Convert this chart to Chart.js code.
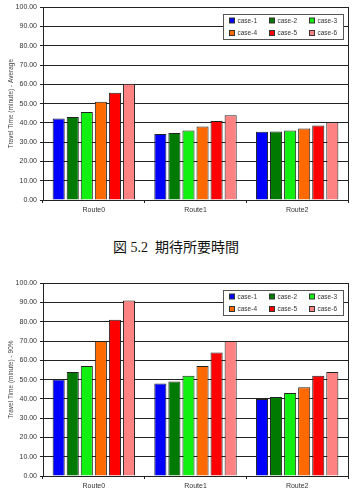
<!DOCTYPE html>
<html>
<head>
<meta charset="utf-8">
<script src="https://cdn.jsdelivr.net/npm/chart.js@4"></script>
<style>
  body { margin: 0; background: #fff; width: 352px; height: 490px; overflow: hidden; position: relative; }
  .chart-box { position: absolute; left: 0; width: 352px; height: 215px; }
  #avg-box { top: 0; }
  #p90-box { top: 276px; }
  #caption {
    position: absolute; top: 236px; left: 0; width: 352px; text-align: center;
    font: 14px "Liberation Serif", "Noto Sans CJK JP", serif; color: #111; white-space: pre;
  }
</style>
</head>
<body>
<div class="chart-box" id="avg-box"><canvas id="avgChart"></canvas></div>
<div id="caption">図 5.2  期待所要時間</div>
<div class="chart-box" id="p90-box"><canvas id="p90Chart"></canvas></div>
<script>
const routes = ['Route0', 'Route1', 'Route2'];
const cases = ['case-1', 'case-2', 'case-3', 'case-4', 'case-5', 'case-6'];
const yTicks = [0, 10, 20, 30, 40, 50, 60, 70, 80, 90, 100];

// one row per case, one value per route
const averageTimes = [
  [42.3, 34.2, 35.4],
  [43.0, 34.8, 35.5],
  [45.6, 36.0, 36.0],
  [51.0, 38.1, 37.1],
  [55.6, 41.0, 38.7],
  [60.3, 44.0, 40.3]
];
const p90Times = [
  [50.0, 48.0, 40.0],
  [54.0, 49.0, 41.0],
  [57.0, 52.0, 43.0],
  [70.0, 57.0, 46.0],
  [81.0, 64.0, 52.0],
  [91.0, 70.0, 54.0]
];

const caseColors = ['#0000ff', '#007a00', '#11f011', '#ff6a00', '#ff0000', '#ff8282'];
const font = 'Liberation Sans, Arial, sans-serif';

// plot frame + legend box drawn on top
const framePlugin = {
  id: 'frame',
  afterDraw(chart) {
    const ctx = chart.ctx;
    const a = chart.chartArea;
    ctx.save();
    ctx.strokeStyle = '#222';
    ctx.lineWidth = 1;
    ctx.strokeRect(Math.round(a.left) + 0.5, Math.round(a.top) + 0.5,
      Math.round(a.right - a.left), Math.round(a.bottom - a.top));

    const w = 120, h = 25;
    const x = Math.round(a.right - w - 5) + 0.5, y = Math.round(a.top + 7) + 0.5;
    ctx.fillStyle = '#fff';
    ctx.fillRect(x, y, w, h);
    ctx.strokeStyle = '#555';
    ctx.strokeRect(x, y, w, h);
    ctx.font = '6.5px ' + font;
    ctx.textBaseline = 'middle';
    chart.data.datasets.forEach((ds, i) => {
      const col = i % 3, row = Math.floor(i / 3);
      const mx = x + 6 + col * 40, my = y + 6 + row * 12.5;
      ctx.fillStyle = ds.backgroundColor;
      ctx.fillRect(mx, my - 2.5, 5, 5);
      ctx.strokeStyle = '#333';
      ctx.strokeRect(mx, my - 2.5, 5, 5);
      ctx.fillStyle = '#333';
      ctx.fillText(ds.label, mx + 8, my + 0.5);
    });
    ctx.restore();
  }
};

function makeChart(id, values, title) {
  const ctx = document.getElementById(id).getContext('2d');
  return new Chart(ctx, {
    type: 'bar',
    data: {
      labels: routes,
      datasets: cases.map((c, i) => ({
        label: c,
        data: values[i],
        backgroundColor: caseColors[i],
        borderColor: '#222',
        borderWidth: 1,
        categoryPercentage: 0.83,
        barPercentage: 0.86
      }))
    },
    options: {
      responsive: true,
      maintainAspectRatio: false,
      animation: false,
      layout: { padding: { top: 5, right: 4, left: 0, bottom: 0 } },
      plugins: { legend: { display: false }, tooltip: { enabled: false } },
      scales: {
        x: {
          afterFit: s => { s.height = 15; },
          grid: { drawOnChartArea: false, offset: true, tickLength: 3, color: '#222' },
          border: { color: '#222' },
          ticks: { font: { family: font, size: 7 }, color: '#333', padding: 3 }
        },
        y: {
          min: 0,
          max: 100,
          afterFit: s => { s.width = 43; },
          afterBuildTicks: s => { s.ticks = yTicks.map(v => ({ value: v })); },
          grid: { color: '#222', tickLength: 3 },
          border: { color: '#222' },
          ticks: {
            font: { family: font, size: 7 }, color: '#333', padding: 3,
            callback: v => Number(v).toFixed(2)
          },
          title: {
            display: true, text: title,
            font: { family: font, size: 6.5 }, color: '#444',
            padding: { top: 7, bottom: 0 }
          }
        }
      }
    },
    plugins: [framePlugin]
  });
}

makeChart('avgChart', averageTimes, 'Travel Time (minute) - Average');
makeChart('p90Chart', p90Times, 'Travel Time (minute) - 90%');
</script>
</body>
</html>
